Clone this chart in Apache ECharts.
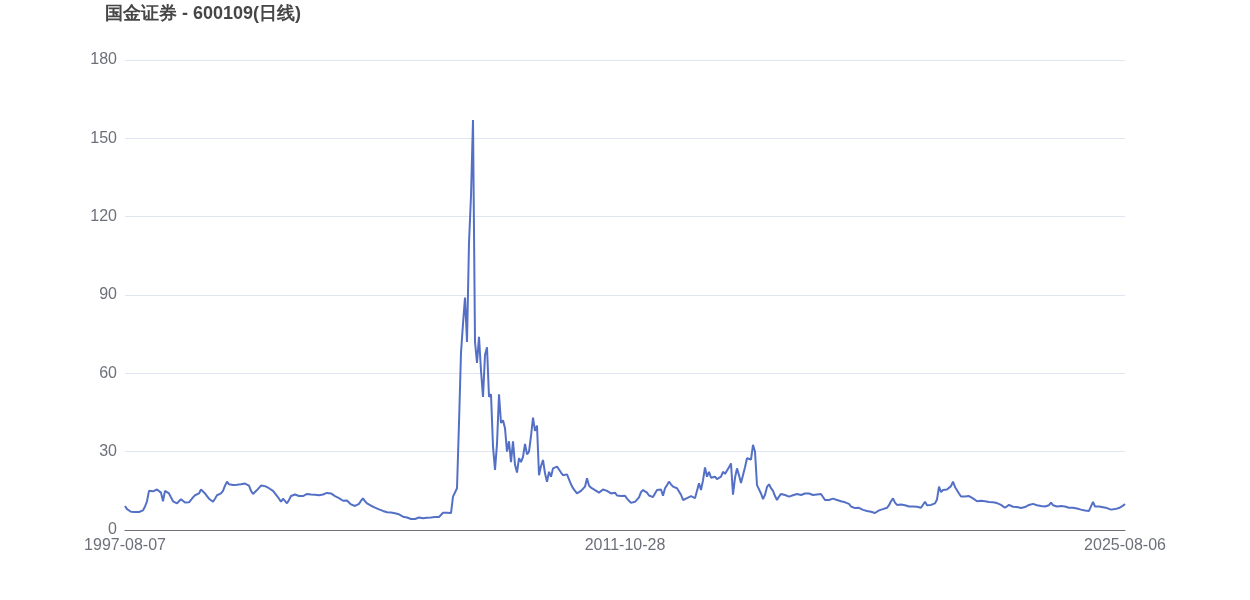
<!DOCTYPE html>
<html>
<head>
<meta charset="utf-8">
<script src="https://cdn.jsdelivr.net/npm/echarts@6/dist/echarts.min.js"></script>
<style>
  html, body { margin: 0; padding: 0; background: #fff; }
  #chart { width: 1250px; height: 600px; }
</style>
</head>
<body>
<div id="chart"></div>
<script>
// 标签日期（首、中、尾）
const dateLabels = ['1997-08-07', '2011-10-28', '2025-08-06']

// 收盘价（从图上读出，等间距采样）
const closes = [
  9.2, 8.0, 7.3, 7.0, 7.0, 6.9, 7.0, 6.9, 7.0, 7.5,
  9.0, 11.0, 15.0, 15.3, 14.8, 14.6, 15.5, 15.2, 14.3, 11.0,
  15.0, 14.5, 14.0, 12.5, 11.0, 10.5, 10.2, 11.0, 11.8, 11.5,
  10.5, 10.0, 10.6, 11.0, 12.5, 13.3, 12.8, 14.0, 15.5, 15.0,
  14.0, 13.0, 12.0, 11.3, 10.8, 12.0, 13.3, 13.0, 14.0, 15.0,
  17.0, 18.5, 17.5, 16.8, 17.2, 17.6, 17.3, 17.8, 17.5, 18.0,
  17.8, 18.5, 17.0, 15.0, 13.8, 14.5, 15.3, 16.0, 17.0, 17.2,
  16.8, 16.9, 16.0, 15.3, 15.0, 14.0, 13.5, 12.0, 10.8, 12.0,
  11.5, 10.2, 11.5, 13.0, 13.4, 13.6, 13.8, 13.0, 12.6, 13.0,
  13.5, 13.8, 13.4, 13.6, 14.1, 13.5, 13.2, 13.3, 13.5, 13.6,
  13.8, 14.2, 14.7, 14.0, 13.5, 13.0, 12.6, 12.2, 11.8, 11.2,
  10.8, 11.3, 10.8, 9.8, 9.4, 9.2, 9.4, 10.0, 11.2, 12.1,
  11.0, 10.2, 9.8, 9.3, 9.0, 8.6, 8.3, 7.9, 7.5, 7.3,
  7.0, 6.8, 6.8, 6.7, 6.6, 6.4, 6.2, 6.0, 5.6, 5.1,
  5.0, 4.8, 4.5, 4.2, 3.8, 4.2, 4.8, 4.8, 4.4, 4.5,
  4.6, 4.7, 4.8, 4.8, 4.9, 5.0, 5.0, 5.0, 5.0, 6.6,
  6.4, 6.6, 6.8, 6.5, 12.8, 13.5, 16.0, 41.0, 68, 79,
  89, 72, 110, 128, 157, 72, 64, 74, 61, 51,
  67, 70, 51, 52, 32, 23, 33, 52, 41, 42,
  39, 30, 34, 26, 34, 25, 22, 27.5, 26, 28,
  33, 29, 30, 36, 43, 38, 40, 21, 24.5, 26.8,
  21.7, 18.5, 22.3, 20.4, 23.6, 24.0, 24.3, 23.8, 22.0, 21.0,
  21.2, 21.3, 21.5, 17.5, 16.0, 15.0, 14.0, 14.5, 15.0, 15.5,
  16.6, 19.8, 17.0, 16.2, 16.0, 15.3, 14.6, 14.3, 15.0, 15.5,
  16.0, 15.0, 14.8, 14.0, 14.5, 14.3, 13.2, 12.8, 13.0, 13.2,
  13.1, 12.0, 11.3, 10.4, 10.2, 10.8, 11.5, 12.5, 14.5, 15.3,
  15.0, 14.3, 13.2, 12.8, 12.6, 14.0, 15.3, 15.0, 15.5, 13.1,
  16.0, 17.2, 18.5, 17.5, 16.6, 16.3, 16.0, 15.5, 13.5, 11.5,
  12.0, 12.2, 12.8, 13.0, 12.5, 12.2, 12.1, 17.9, 15.3, 19.0,
  24.0, 20.4, 22.3, 20.0, 19.5, 20.4, 19.5, 20.0, 20.4, 22.3,
  21.5, 21.8, 24.0, 25.5, 13.5, 20.0, 23.6, 21.0, 18.0, 18.0,
  24.0, 27.5, 28.0, 27.0, 32.6, 30.0, 17.2, 17.8, 14.0, 11.8,
  13.5, 16.5, 17.5, 16.0, 15.0, 13.0, 11.5, 12.8, 13.8, 14.3,
  13.4, 13.0, 12.8, 13.0, 13.3, 13.6, 13.8, 13.5, 13.4, 13.6,
  14.0, 14.7, 14.0, 13.5, 13.4, 13.5, 13.6, 13.6, 13.8, 13.5,
  11.5, 11.6, 11.5, 11.6, 12.0, 12.1, 11.5, 11.3, 11.0, 10.8,
  10.6, 10.2, 10.0, 9.0, 8.3, 8.4, 8.6, 8.5, 8.2, 7.7,
  7.6, 7.3, 7.0, 7.0, 6.8, 6.5, 6.6, 7.5, 8.2, 8.0,
  8.0, 8.5, 9.5, 11.0, 12.1, 10.5, 9.6, 9.6, 9.8, 9.5,
  9.5, 9.2, 9.0, 9.0, 9.0, 8.9, 8.9, 8.7, 8.5, 9.0,
  10.8, 9.5, 9.3, 9.6, 10.0, 10.2, 11.7, 16.6, 14.5, 15.3,
  15.3, 15.5, 16.2, 16.8, 18.5, 16.5, 17.0, 14.0, 12.8, 13.4,
  12.8, 12.6, 13.0, 12.6, 12.1, 11.5, 11.0, 10.8, 11.2, 11.5,
  11.0, 10.8, 10.7, 10.5, 10.6, 10.8, 10.3, 9.8, 9.6, 9.0,
  8.5, 8.6, 9.6, 9.0, 8.9, 8.8, 8.8, 8.7, 8.4, 8.3,
  8.8, 9.0, 9.6, 10.0, 10.0, 9.6, 9.5, 9.3, 9.2, 9.0,
  9.0, 8.9, 9.5, 10.5, 9.5, 9.3, 9.0, 8.9, 9.2, 9.6,
  9.0, 8.8, 8.5, 8.6, 8.5, 8.3, 8.2, 8.0, 7.8, 7.7,
  7.5, 7.4, 7.3, 7.4, 10.8, 9.0, 9.2, 9.0, 8.8, 8.7,
  8.5, 8.4, 8.0, 7.8, 7.6, 8.0, 8.2, 8.4, 8.8, 9.3,
  10.0
]

// y轴刻度
const yTicks = [0, 30, 60, 90, 120, 150, 180]

// x轴类目：只在首、中、尾放日期
const mid = Math.floor((closes.length - 1) / 2)
const categories = closes.map((v, i) => {
  if (i === 0) return dateLabels[0]
  if (i === mid) return dateLabels[1]
  if (i === closes.length - 1) return dateLabels[2]
  return ''
})

const chart = echarts.init(document.getElementById('chart'))
chart.setOption({
  animation: false,
  title: {
    text: '国金证券 - 600109(日线)',
    left: '8%',
    top: 0,
    textStyle: {
      fontSize: 18,
      fontWeight: 'bold',
      color: '#464646',
    },
  },
  grid: {
    left: 125,
    right: 125,
    top: 60,
    bottom: 70,
  },
  xAxis: {
    type: 'category',
    boundaryGap: false,
    data: categories,
    axisTick: { show: false },
    axisLine: { lineStyle: { color: '#6E7079' } },
    axisLabel: {
      color: '#6E7079',
      fontSize: 16,
      interval: (index) => index === 0 || index === mid || index === closes.length - 1,
      showMinLabel: true,
      showMaxLabel: true,
      hideOverlap: false,
    },
  },
  yAxis: {
    type: 'value',
    min: yTicks[0],
    max: yTicks[yTicks.length - 1],
    interval: 30,
    axisLabel: {
      color: '#6E7079',
      fontSize: 16,
    },
    splitLine: { lineStyle: { color: '#E0E6F1' } },
  },
  series: [
    {
      type: 'line',
      data: closes,
      showSymbol: false,
      symbol: 'none',
      lineStyle: { color: '#5470C6', width: 2 },
      itemStyle: { color: '#5470C6' },
    },
  ],
})
</script>
</body>
</html>
